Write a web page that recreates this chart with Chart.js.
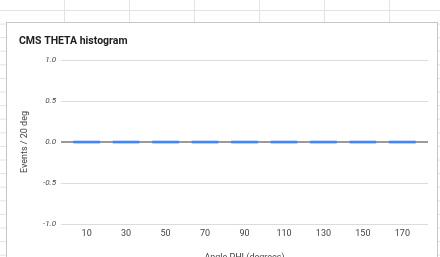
<!DOCTYPE html>
<html>
<head>
<meta charset="utf-8">
<script src="https://cdn.jsdelivr.net/npm/chart.js@4/dist/chart.umd.min.js"></script>
<style>
  html, body { margin: 0; padding: 0; }
  body {
    width: 440px; height: 257px; overflow: hidden; position: relative;
    background-color: #fff;
    background-image:
      linear-gradient(to right, #e2e3e3 1px, transparent 1px),
      linear-gradient(to bottom, #e2e3e3 1px, transparent 1px);
    background-size: 65px 13.6px;
    background-position: 64px 10px;
  }
  #card {
    position: absolute; left: 6px; top: 22px; width: 430px; height: 260px;
    border: 1px solid #c6c6c6; background: #fff;
  }
  canvas { display: block; }
</style>
</head>
<body>
<div id="card"><canvas id="c" width="430" height="240"></canvas></div>
<script>
const chartTitle = "CMS THETA histogram";
const xTitle = "Angle PHI (degrees)";
const yTitle = "Events / 20 deg";
const binCenters = [10, 30, 50, 70, 90, 110, 130, 150, 170];
const eventCounts = [0, 0, 0, 0, 0, 0, 0, 0, 0];
const yTicks = [-1.0, -0.5, 0.0, 0.5, 1.0];

const points = binCenters.map((x, i) => ({ x: x, y: eventCounts[i] }));

new Chart(document.getElementById('c'), {
  type: 'bar',
  data: {
    datasets: [{
      label: 'Events',
      data: points,
      backgroundColor: '#4285f4',
      borderWidth: 0,
      barThickness: 26,
      minBarLength: 2
    }]
  },
  options: {
    responsive: false,
    animation: false,
    layout: { padding: { left: 12, right: 9, top: 0, bottom: 0 } },
    plugins: {
      legend: { display: false },
      tooltip: { enabled: false },
      title: {
        display: true,
        text: chartTitle,
        align: 'start',
        color: '#212121',
        font: { family: 'Roboto', size: 10.5, weight: 'bold' },
        padding: { top: 12.5, bottom: 12 }
      }
    },
    scales: {
      x: {
        type: 'linear',
        offset: false,
        min: -3,
        max: 183,
        grid: { display: false, drawTicks: false },
        border: { display: false },
        afterBuildTicks: (s) => { s.ticks = binCenters.map(v => ({ value: v })); },
        afterFit: (s) => { s.height = 39; },
        ticks: {
          padding: 4,
          color: '#444',
          font: { family: 'Roboto', size: 9 },
          callback: (v) => String(v)
        },
        title: {
          display: true,
          text: xTitle,
          color: '#444',
          font: { family: 'Roboto', size: 9 },
          padding: { top: 0, bottom: 0 }
        }
      },
      y: {
        min: -1,
        max: 1,
        afterBuildTicks: (s) => { s.ticks = yTicks.map(v => ({ value: v })); },
        afterFit: (s) => { s.width = 42; },
        grid: {
          drawTicks: false,
          color: (ctx) => (ctx.tick && ctx.tick.value === 0) ? '#9a9a9a' : '#dcdcdc',
          lineWidth: (ctx) => (ctx.tick && ctx.tick.value === 0) ? 2 : 1
        },
        border: { display: false },
        ticks: {
          padding: 5,
          color: '#444',
          font: { family: 'Roboto', size: 8, style: 'italic' },
          callback: (v) => Number(v).toFixed(1)
        },
        title: {
          display: true,
          text: yTitle,
          color: '#444',
          font: { family: 'Roboto', size: 9 },
          padding: { top: 0, bottom: 0 }
        }
      }
    }
  }
});
</script>
</body>
</html>
